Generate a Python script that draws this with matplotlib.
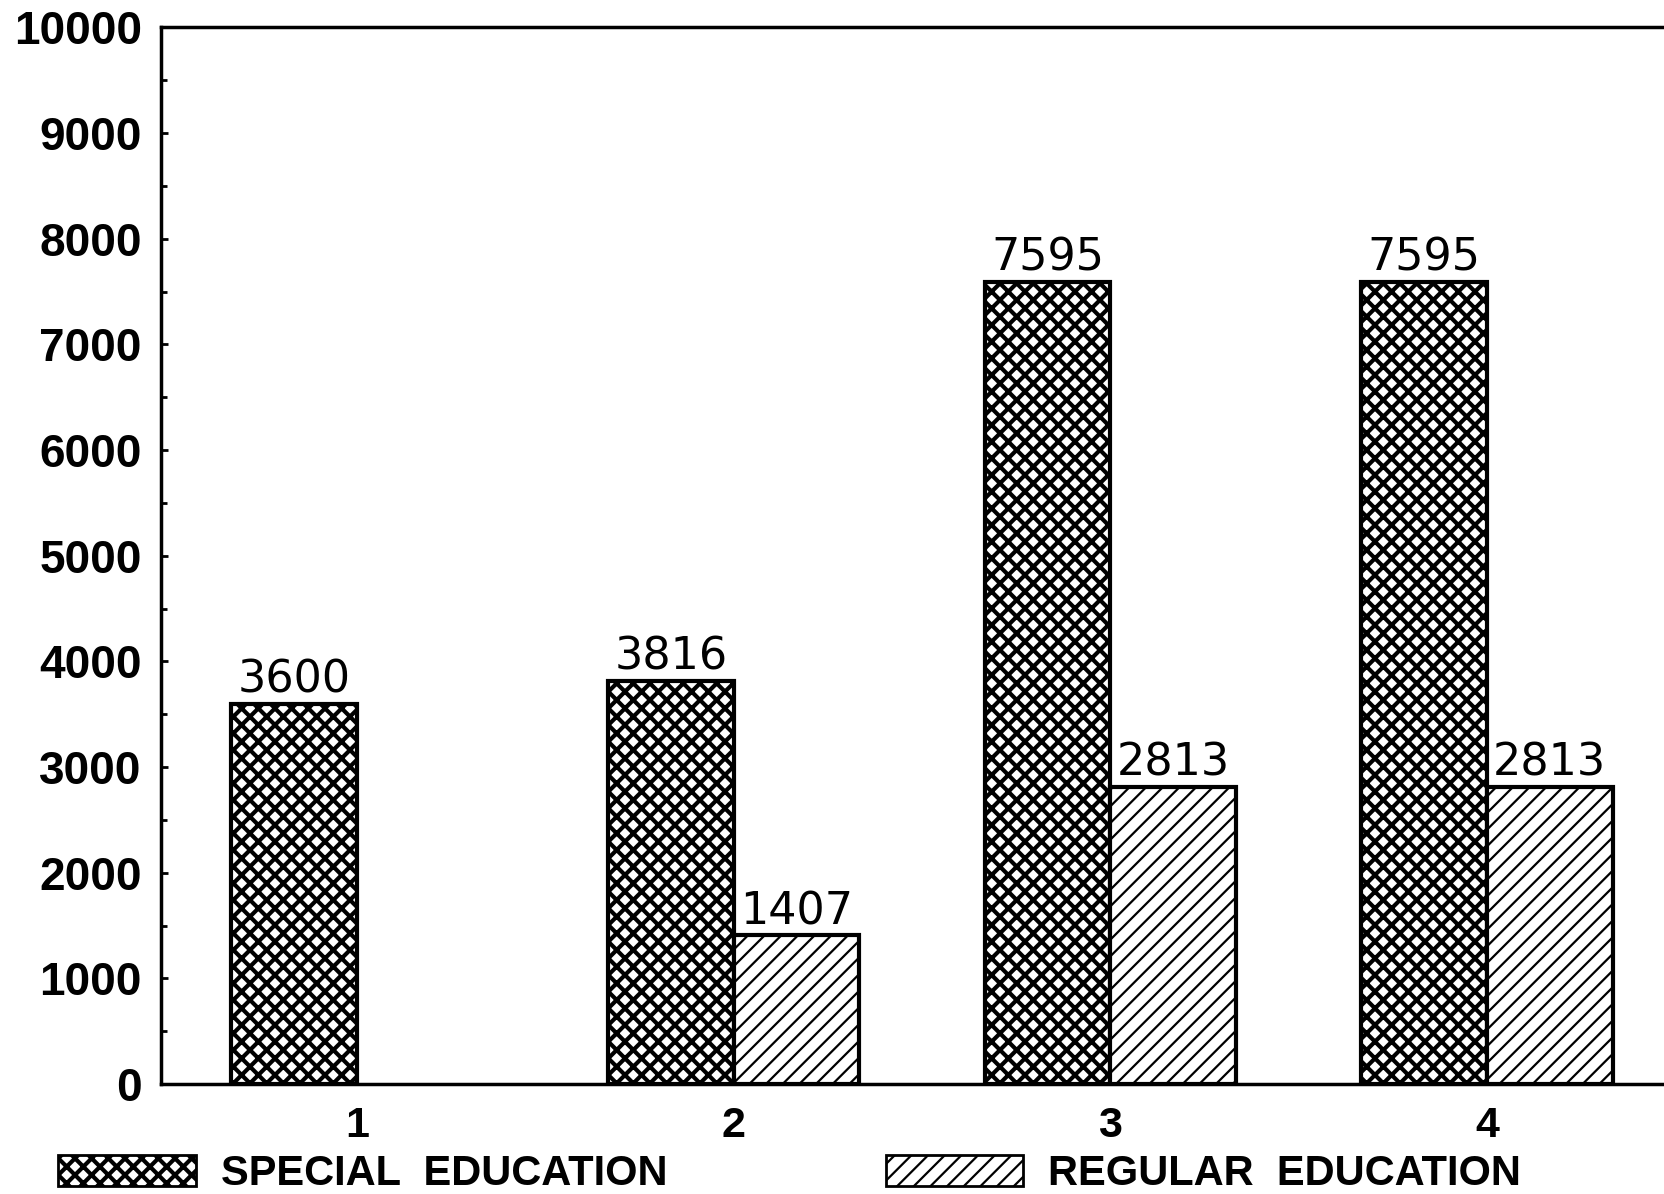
import matplotlib

matplotlib.use("agg")
import matplotlib.pyplot as plt
from matplotlib.patches import Patch
from matplotlib.ticker import MultipleLocator

# data
groups = [1, 2, 3, 4]
special = [3600, 3816, 7595, 7595]
regular = [0, 1407, 2813, 2813]
series_names = ["SPECIAL  EDUCATION", "REGULAR  EDUCATION"]

W = 1 / 3  # bar width in group units
NARROW = dict(family=["Liberation Sans", "DejaVu Sans"], weight="bold")
HATCH_LW = {"xx": 3.0, "//": 1.6}

plt.rcParams.update({
    "font.family": ["DejaVu Sans"],
    "hatch.color": "black",
})

fig = plt.figure(figsize=(16.64, 11.94), dpi=100)
ax = fig.add_axes([0.0968, 0.092, 0.9032, 0.885])

with plt.rc_context({"hatch.linewidth": HATCH_LW["xx"]}):
    b1 = ax.bar([g - W / 2 for g in groups], special, width=W,
                facecolor="white", edgecolor="black", linewidth=3,
                hatch="xx", zorder=3)
with plt.rc_context({"hatch.linewidth": HATCH_LW["//"]}):
    b2 = ax.bar([g + W / 2 for g in groups], regular, width=W,
                facecolor="white", edgecolor="black", linewidth=3,
                hatch="//", zorder=3)

for bars, vals in ((b1, special), (b2, regular)):
    for rect, v in zip(bars, vals):
        if v <= 0:
            rect.set_visible(False)
            continue
        ax.annotate(f"{v}", (rect.get_x() + rect.get_width() / 2, v),
                    xytext=(0, 1.5), textcoords="offset points",
                    ha="center", va="bottom", fontsize=32)

ax.set_xlim(0.48, 4.47)
ax.set_ylim(0, 10000)
ax.yaxis.set_major_locator(MultipleLocator(1000))
ax.yaxis.set_minor_locator(MultipleLocator(500))
ax.set_xticks(groups)
ax.set_xticklabels([str(g) for g in groups], fontsize=31, **NARROW)
for lab in ax.get_yticklabels():
    lab.set_family(["Liberation Sans", "DejaVu Sans"])
    lab.set_fontweight("bold")
    lab.set_fontsize(33)

ax.tick_params(axis="y", which="both", direction="in", width=2, pad=14)
ax.tick_params(axis="y", which="major", length=5)
ax.tick_params(axis="y", which="minor", length=4)
ax.tick_params(axis="x", length=0, pad=16)

ax.spines["right"].set_visible(False)
for sp in ("left", "top", "bottom"):
    ax.spines[sp].set_linewidth(2.5)

h1 = Patch(facecolor="white", edgecolor="black", hatch="xx",
           linewidth=2, label=series_names[0])
h2 = Patch(facecolor="white", edgecolor="black", hatch="//",
           linewidth=2, label=series_names[1])

leg = fig.legend(handles=[h1, h2], loc="lower left",
                 bbox_to_anchor=(0.035, 0.0), ncol=2, frameon=False,
                 borderpad=0, borderaxespad=0,
                 handlelength=3.3, handleheight=0.75, handletextpad=0.6,
                 columnspacing=5.25,
                 prop=dict(size=30, **NARROW))
for p in leg.get_patches():
    if hasattr(p, "set_hatch_linewidth"):
        p.set_hatch_linewidth(HATCH_LW[p.get_hatch()])

fig.savefig("out.png", dpi=100)
